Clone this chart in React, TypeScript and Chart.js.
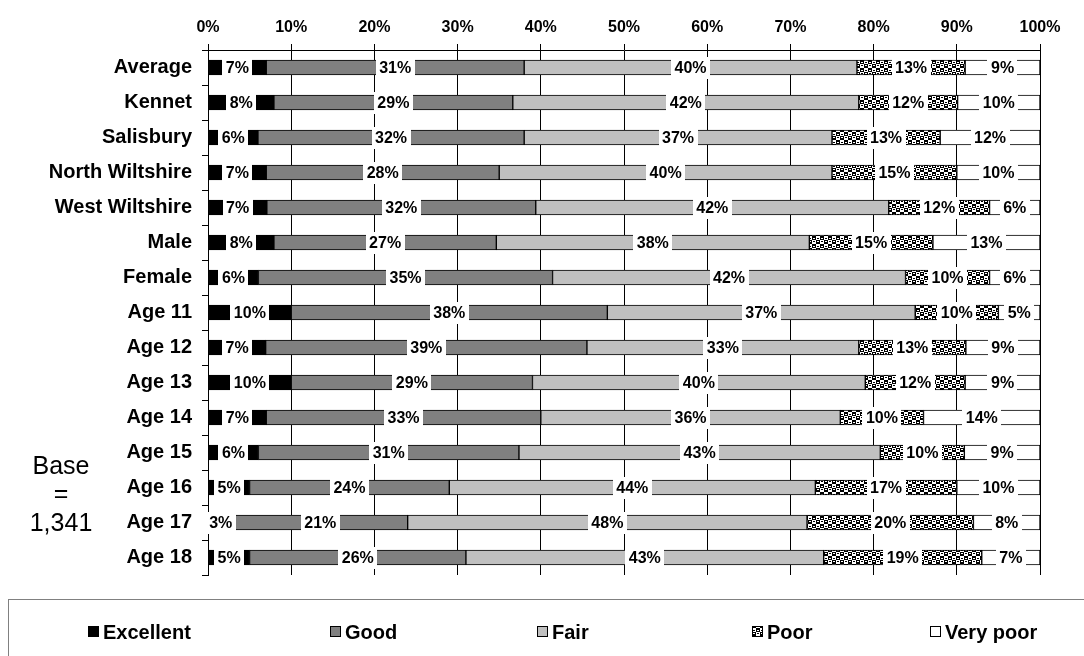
import React, { useEffect, useRef } from "react";
import { Chart, registerables } from "chart.js";

Chart.register(...registerables);

// Self-rated health by area, sex and age (percent of respondents)
const categories = [
  "Average",
  "Kennet",
  "Salisbury",
  "North Wiltshire",
  "West Wiltshire",
  "Male",
  "Female",
  "Age 11",
  "Age 12",
  "Age 13",
  "Age 14",
  "Age 15",
  "Age 16",
  "Age 17",
  "Age 18",
];
const excellent = [7, 8, 6, 7, 7, 8, 6, 10, 7, 10, 7, 6, 5, 3, 5];
const good = [31, 29, 32, 28, 32, 27, 35, 38, 39, 29, 33, 31, 24, 21, 26];
const fair = [40, 42, 37, 40, 42, 38, 42, 37, 33, 40, 36, 43, 44, 48, 43];
const poor = [13, 12, 13, 15, 12, 15, 10, 10, 13, 12, 10, 10, 17, 20, 19];
const veryPoor = [9, 10, 12, 10, 6, 13, 6, 5, 9, 9, 14, 9, 10, 8, 7];
const seriesNames = ["Excellent", "Good", "Fair", "Poor", "Very poor"];
const xTickLabels = ["0%", "10%", "20%", "30%", "40%", "50%", "60%", "70%", "80%", "90%", "100%"];
const baseLines = ["Base", "=", "1,341"];

const FONT = "'Liberation Sans', Arial, Helvetica, sans-serif";
const series = [excellent, good, fair, poor, veryPoor];

// Each row is drawn as a 100% stack, so shares are taken of the row total.
const rowTotals = categories.map((_, i) => series.reduce((s, arr) => s + arr[i], 0));
const shareOf = (arr: number[]) => arr.map((v, i) => (v / rowTotals[i]) * 100);

function makePoorPattern(): CanvasPattern | string {
  const c = document.createElement("canvas");
  c.width = 8;
  c.height = 8;
  const p = c.getContext("2d");
  if (!p) return "#666";
  p.fillStyle = "#fff";
  p.fillRect(0, 0, 8, 8);
  p.fillStyle = "#000";
  p.fillRect(0, 0, 4, 4);
  p.fillRect(4, 4, 4, 4);
  p.fillRect(5, 1, 2, 1);
  p.fillRect(1, 6, 2, 1);
  p.fillStyle = "#fff";
  p.fillRect(1, 1, 2, 1);
  p.fillRect(5, 6, 2, 1);
  const pat = p.createPattern(c, "repeat");
  return pat || "#666";
}

// White-boxed value labels centred on each segment
const segmentLabels = {
  id: "segmentLabels",
  afterDatasetsDraw(chart: any) {
    const ctx = chart.ctx;
    ctx.save();
    ctx.font = `bold 16px ${FONT}`;
    ctx.textAlign = "center";
    ctx.textBaseline = "middle";
    chart.data.datasets.forEach((_: any, di: number) => {
      const meta = chart.getDatasetMeta(di);
      meta.data.forEach((bar: any, i: number) => {
        const text = `${series[di][i]}%`;
        const { x, base, y } = bar.getProps(["x", "base", "y"], true);
        const cx = (x + base) / 2;
        const w = ctx.measureText(text).width + 7;
        ctx.fillStyle = "#fff";
        ctx.fillRect(Math.round(cx - w / 2), Math.round(y - 11), Math.round(w), 22);
        ctx.fillStyle = "#000";
        ctx.fillText(text, cx, y + 1);
      });
    });
    ctx.restore();
  },
};

// Base note on the left and the boxed legend underneath
const extras = {
  id: "extras",
  afterDraw(chart: any) {
    const ctx = chart.ctx;
    ctx.save();
    ctx.fillStyle = "#000";
    ctx.textAlign = "center";
    ctx.textBaseline = "middle";
    ctx.font = `25px ${FONT}`;
    const baseY = [467, 495, 524];
    baseLines.forEach((t, i) => ctx.fillText(t, 61, baseY[i]));

    ctx.strokeStyle = "#808080";
    ctx.lineWidth = 1;
    ctx.strokeRect(8.5, 599.5, 1200, 200);

    const markerX = [88, 330, 537, 752, 930];
    const ly = 632;
    ctx.font = `bold 20px ${FONT}`;
    ctx.textAlign = "left";
    chart.data.datasets.forEach((ds: any, i: number) => {
      const mx = markerX[i];
      ctx.fillStyle = ds.backgroundColor;
      ctx.fillRect(mx, ly - 6, 11, 11);
      ctx.strokeStyle = "#000";
      ctx.strokeRect(mx + 0.5, ly - 5.5, 10, 10);
      ctx.fillStyle = "#000";
      ctx.fillText(seriesNames[i], mx + 15, ly + 1);
    });
    ctx.restore();
  },
};

export default function App() {
  const ref = useRef<HTMLCanvasElement>(null);

  useEffect(() => {
    if (!ref.current) return;
    const poorFill = makePoorPattern();
    const fills = ["#000000", "#808080", "#c0c0c0", poorFill, "#ffffff"];
    const chart = new Chart(ref.current, {
      type: "bar",
      data: {
        labels: categories,
        datasets: series.map((arr, i) => ({
          label: seriesNames[i],
          data: shareOf(arr),
          backgroundColor: fills[i] as any,
          borderColor: "#000",
          borderWidth: 1,
          borderSkipped: false,
          barThickness: 15,
        })),
      },
      options: {
        indexAxis: "y",
        animation: false,
        responsive: false,
        devicePixelRatio: 1,
        layout: { padding: { left: 0, top: 0, right: 44, bottom: 81 } },
        plugins: {
          legend: { display: false },
          tooltip: { enabled: false },
        },
        scales: {
          x: {
            position: "top",
            stacked: true,
            min: 0,
            max: 100,
            ticks: {
              stepSize: 10,
              autoSkip: false,
              maxRotation: 0,
              padding: 7,
              color: "#000",
              font: { family: FONT, size: 16, weight: "bold" },
              callback: (_v: any, idx: number) => xTickLabels[idx],
            },
            grid: { color: "#000", lineWidth: 1, tickLength: 6 },
            border: { color: "#000", width: 1 },
            afterFit: (s: any) => {
              s.height = 50;
            },
          },
          y: {
            stacked: true,
            ticks: {
              padding: 10,
              color: "#000",
              font: { family: FONT, size: 20, weight: "bold" },
            },
            grid: { drawOnChartArea: false, tickLength: 6, color: "#000", offset: true },
            border: { color: "#000", width: 1 },
            afterFit: (s: any) => {
              s.width = 208;
            },
          },
        },
      },
      plugins: [segmentLabels, extras],
    });
    return () => chart.destroy();
  }, []);

  return (
    <div style={{ position: "fixed", left: 0, top: 0, width: 1084, height: 656, background: "#fff" }}>
      <canvas ref={ref} width={1084} height={656} style={{ display: "block" }} />
    </div>
  );
}
